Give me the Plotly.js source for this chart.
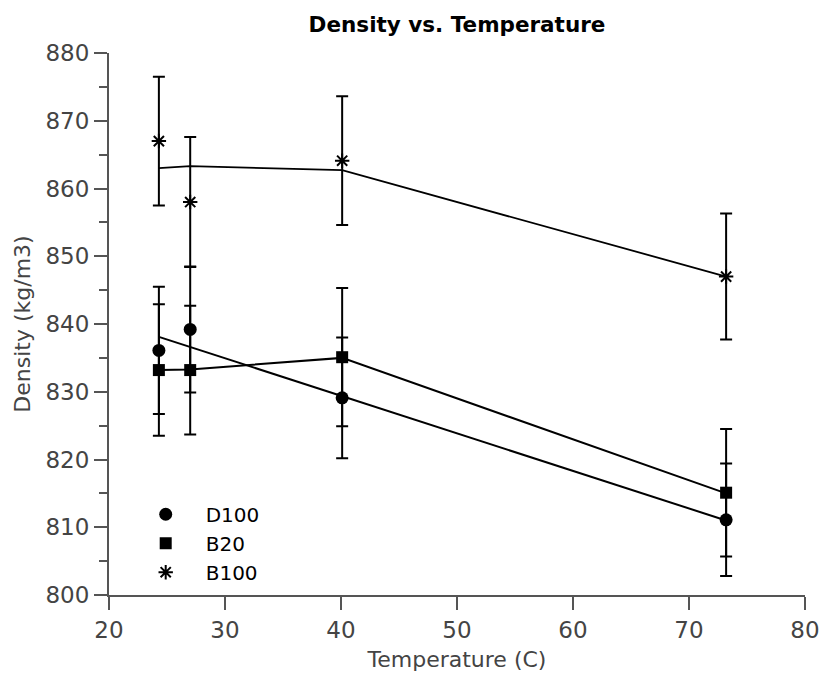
<!DOCTYPE html>
<html>
<head>
<meta charset="utf-8">
<script src="https://cdn.plot.ly/plotly-3.0.1.min.js"></script>
<style>html,body{margin:0;padding:0;background:#fff;}#chart{width:821px;height:677px;}</style>
</head>
<body>
<div id="chart"></div>
<script>
// Temperatures (C)
const temps = [24.3, 27.0, 40.1, 73.2];

// Measured densities (kg/m3)
const d100 = [836.1, 839.2, 829.1, 811.1];
const b20 = [833.2, 833.2, 835.1, 815.1];
const b100 = [867.0, 858.0, 864.1, 847.0];

// Error bar half-heights
const d100Err = [9.4, 9.3, 8.9, 8.3];
const b20Err = [9.7, 9.5, 10.2, 9.4];
const b100Err = [9.5, 9.6, 9.5, 9.3];

// Trend lines
const d100Line = [838.1, 836.6, 829.4, 811.0];
const b20Line = [833.2, 833.3, 835.0, 815.0];
const b100Line = [863.0, 863.3, 862.7, 847.0];

const seriesNames = ['D100', 'B20', 'B100'];
const yTicks = [800, 810, 820, 830, 840, 850, 860, 870, 880];
const xTicks = [20, 30, 40, 50, 60, 70, 80];

const FONT = 'DejaVu Sans, Arial, sans-serif';
const AX = '#555555';
const TXT = '#444444';

function errBar(arr) {
  return {type: 'data', array: arr, visible: true, color: '#000', thickness: 2, width: 6};
}

const traces = [
  {x: temps, y: d100Line, mode: 'lines', line: {color: '#000', width: 2}, showlegend: false, hoverinfo: 'skip'},
  {x: temps, y: b20Line, mode: 'lines', line: {color: '#000', width: 2}, showlegend: false, hoverinfo: 'skip'},
  {x: temps, y: b100Line, mode: 'lines', line: {color: '#000', width: 1.8}, showlegend: false, hoverinfo: 'skip'},
  {x: temps, y: d100, name: seriesNames[0], mode: 'markers', error_y: errBar(d100Err),
   marker: {symbol: 'circle', size: 13, color: '#000'}},
  {x: temps, y: b20, name: seriesNames[1], mode: 'markers', error_y: errBar(b20Err),
   marker: {symbol: 'square', size: 12, color: '#000'}},
  {x: temps, y: b100, name: seriesNames[2], mode: 'markers', error_y: errBar(b100Err),
   marker: {symbol: 'asterisk-open', size: 12, color: '#000', line: {color: '#000', width: 2}}}
];

const layout = {
  width: 821, height: 677, autosize: false,
  paper_bgcolor: '#fff', plot_bgcolor: '#fff',
  margin: {l: 109, r: 16, t: 53, b: 82, pad: 0},
  font: {family: FONT, color: TXT},
  title: {text: '<b>Density vs. Temperature</b>', font: {family: FONT, size: 21.5, color: '#000'},
          x: 0.5, xanchor: 'center', xref: 'paper', y: 0.975, yanchor: 'top'},
  xaxis: {
    range: [20, 80], tickvals: xTicks, ticktext: xTicks.map(String),
    showgrid: false, zeroline: false, showline: true, linecolor: AX, linewidth: 2,
    ticks: 'outside', ticklen: 13, tickwidth: 2, tickcolor: AX,
    tickfont: {family: FONT, size: 23, color: TXT},
    title: {text: 'Temperature (C)', font: {family: FONT, size: 22, color: TXT}, standoff: 10}
  },
  yaxis: {
    range: [800, 880], tickvals: yTicks, ticktext: yTicks.map(String),
    showgrid: false, zeroline: false, showline: true, linecolor: AX, linewidth: 2,
    ticks: 'outside', ticklen: 13, tickwidth: 2, tickcolor: AX,
    tickfont: {family: FONT, size: 23, color: TXT},
    minor: {dtick: 5, ticks: 'outside', ticklen: 8, tickwidth: 2, tickcolor: AX, showgrid: false},
    title: {text: 'Density (kg/m3)', font: {family: FONT, size: 22, color: TXT}, standoff: 9}
  },
  legend: {x: 0.024, xanchor: 'left', y: 0.185, yanchor: 'top', bgcolor: 'rgba(0,0,0,0)',
           font: {family: FONT, size: 20, color: '#000'}, itemwidth: 70, tracegroupgap: 0}
};

Plotly.newPlot('chart', traces, layout, {displayModeBar: false, staticPlot: true});
</script>
</body>
</html>
